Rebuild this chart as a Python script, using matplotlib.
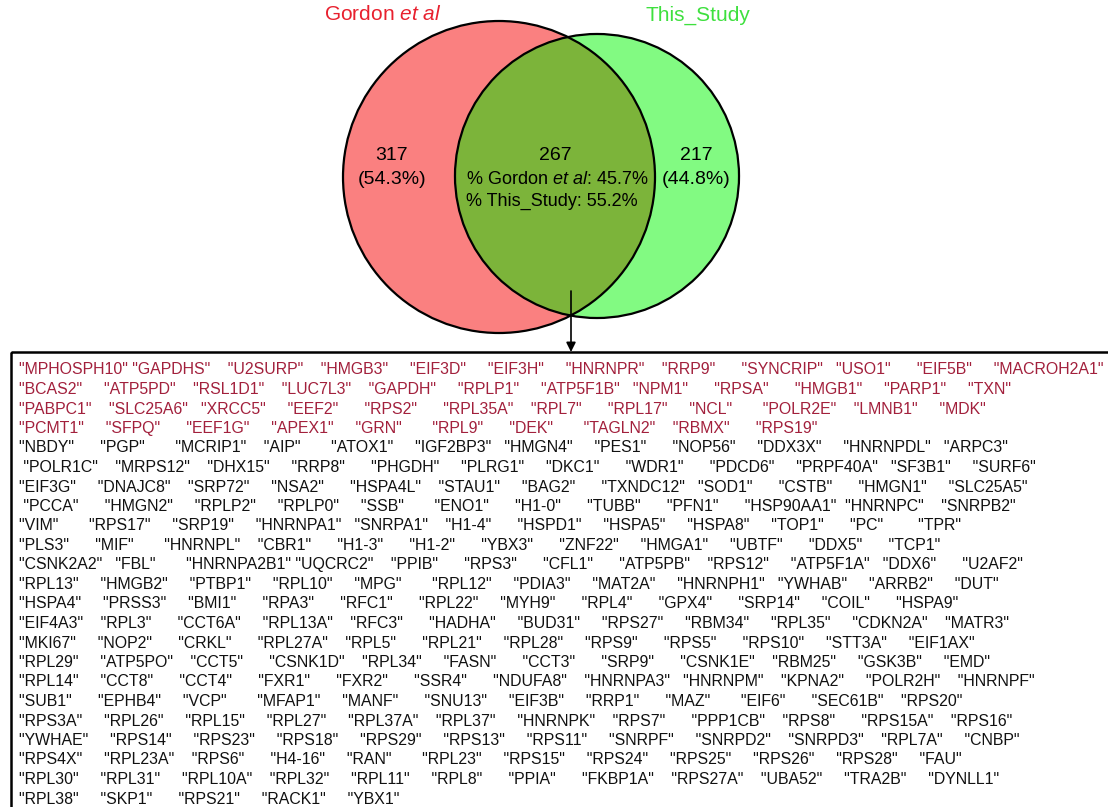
import numpy as np
import matplotlib.pyplot as plt
from matplotlib.patches import Circle, Rectangle

plt.rcParams['font.family'] = ['Liberation Sans', 'DejaVu Sans']
plt.rcParams['mathtext.fontset'] = 'custom'
plt.rcParams['mathtext.rm'] = 'Liberation Sans'
plt.rcParams['mathtext.it'] = 'Liberation Sans:italic'

# set labels and overlap counts
set_names = ['Gordon et al', 'This_Study']
only_gordon = 317
only_study = 217
shared = 267
gordon_total = only_gordon + shared
study_total = only_study + shared

# shared proteins, first group highlighted in red
shared_red = ['MPHOSPH10', 'GAPDHS', 'U2SURP', 'HMGB3', 'EIF3D', 'EIF3H', 'HNRNPR', 'RRP9',
              'SYNCRIP', 'USO1', 'EIF5B', 'MACROH2A1',
              'BCAS2', 'ATP5PD', 'RSL1D1', 'LUC7L3', 'GAPDH', 'RPLP1', 'ATP5F1B', 'NPM1',
              'RPSA', 'HMGB1', 'PARP1', 'TXN',
              'PABPC1', 'SLC25A6', 'XRCC5', 'EEF2', 'RPS2', 'RPL35A', 'RPL7', 'RPL17',
              'NCL', 'POLR2E', 'LMNB1', 'MDK',
              'PCMT1', 'SFPQ', 'EEF1G', 'APEX1', 'GRN', 'RPL9', 'DEK', 'TAGLN2', 'RBMX', 'RPS19']

shared_black = ['NBDY', 'PGP', 'MCRIP1', 'AIP', 'ATOX1', 'IGF2BP3', 'HMGN4', 'PES1', 'NOP56',
                'DDX3X', 'HNRNPDL', 'ARPC3',
                'POLR1C', 'MRPS12', 'DHX15', 'RRP8', 'PHGDH', 'PLRG1', 'DKC1', 'WDR1', 'PDCD6',
                'PRPF40A', 'SF3B1', 'SURF6',
                'EIF3G', 'DNAJC8', 'SRP72', 'NSA2', 'HSPA4L', 'STAU1', 'BAG2', 'TXNDC12', 'SOD1',
                'CSTB', 'HMGN1', 'SLC25A5',
                'PCCA', 'HMGN2', 'RPLP2', 'RPLP0', 'SSB', 'ENO1', 'H1-0', 'TUBB', 'PFN1',
                'HSP90AA1', 'HNRNPC', 'SNRPB2',
                'VIM', 'RPS17', 'SRP19', 'HNRNPA1', 'SNRPA1', 'H1-4', 'HSPD1', 'HSPA5', 'HSPA8',
                'TOP1', 'PC', 'TPR',
                'PLS3', 'MIF', 'HNRNPL', 'CBR1', 'H1-3', 'H1-2', 'YBX3', 'ZNF22', 'HMGA1', 'UBTF',
                'DDX5', 'TCP1',
                'CSNK2A2', 'FBL', 'HNRNPA2B1', 'UQCRC2', 'PPIB', 'RPS3', 'CFL1', 'ATP5PB', 'RPS12',
                'ATP5F1A', 'DDX6', 'U2AF2',
                'RPL13', 'HMGB2', 'PTBP1', 'RPL10', 'MPG', 'RPL12', 'PDIA3', 'MAT2A', 'HNRNPH1',
                'YWHAB', 'ARRB2', 'DUT',
                'HSPA4', 'PRSS3', 'BMI1', 'RPA3', 'RFC1', 'RPL22', 'MYH9', 'RPL4', 'GPX4', 'SRP14',
                'COIL', 'HSPA9',
                'EIF4A3', 'RPL3', 'CCT6A', 'RPL13A', 'RFC3', 'HADHA', 'BUD31', 'RPS27', 'RBM34',
                'RPL35', 'CDKN2A', 'MATR3',
                'MKI67', 'NOP2', 'CRKL', 'RPL27A', 'RPL5', 'RPL21', 'RPL28', 'RPS9', 'RPS5', 'RPS10',
                'STT3A', 'EIF1AX',
                'RPL29', 'ATP5PO', 'CCT5', 'CSNK1D', 'RPL34', 'FASN', 'CCT3', 'SRP9', 'CSNK1E',
                'RBM25', 'GSK3B', 'EMD',
                'RPL14', 'CCT8', 'CCT4', 'FXR1', 'FXR2', 'SSR4', 'NDUFA8', 'HNRNPA3', 'HNRNPM',
                'KPNA2', 'POLR2H', 'HNRNPF',
                'SUB1', 'EPHB4', 'VCP', 'MFAP1', 'MANF', 'SNU13', 'EIF3B', 'RRP1', 'MAZ', 'EIF6',
                'SEC61B', 'RPS20',
                'RPS3A', 'RPL26', 'RPL15', 'RPL27', 'RPL37A', 'RPL37', 'HNRNPK', 'RPS7', 'PPP1CB',
                'RPS8', 'RPS15A', 'RPS16',
                'YWHAE', 'RPS14', 'RPS23', 'RPS18', 'RPS29', 'RPS13', 'RPS11', 'SNRPF', 'SNRPD2',
                'SNRPD3', 'RPL7A', 'CNBP',
                'RPS4X', 'RPL23A', 'RPS6', 'H4-16', 'RAN', 'RPL23', 'RPS15', 'RPS24', 'RPS25',
                'RPS26', 'RPS28', 'FAU',
                'RPL30', 'RPL31', 'RPL10A', 'RPL32', 'RPL11', 'RPL8', 'PPIA', 'FKBP1A', 'RPS27A',
                'UBA52', 'TRA2B', 'DYNLL1',
                'RPL38', 'SKP1', 'RPS21', 'RACK1', 'YBX1']

# rows printed with one leading blank
indented_rows = [5, 7]

per_row = 12
field_w = max(len(g) for g in shared_red + shared_black) + 2


def make_rows(genes):
    rows = []
    for i in range(0, len(genes), per_row):
        chunk = genes[i:i + per_row]
        rows.append(' '.join(('"%s"' % g).ljust(field_w) for g in chunk).rstrip())
    return rows


W, H = 1108, 807
fig = plt.figure(figsize=(W / 100, H / 100), dpi=100)
ax = fig.add_axes([0, 0, 1, 1])
ax.set_xlim(0, W)
ax.set_ylim(H, 0)
ax.axis('off')

# circle sizes follow the set sizes
k = 156 / np.sqrt(gordon_total)
r1 = k * np.sqrt(gordon_total)
r2 = k * np.sqrt(study_total)
c1 = (499, 177)
c2 = (597, 176)

red_fill = '#FA8080'
green_fill = '#82FA82'
mix_fill = '#7CB43A'

red_c = Circle(c1, r1, facecolor=red_fill, edgecolor='none', zorder=1)
ax.add_patch(red_c)
ax.add_patch(Circle(c2, r2, facecolor=green_fill, edgecolor='none', zorder=1))
lens = Circle(c2, r2, facecolor=mix_fill, edgecolor='none', zorder=2)
ax.add_patch(lens)
lens.set_clip_path(red_c)
ax.add_patch(Circle(c1, r1, facecolor='none', edgecolor='black', lw=1.6, zorder=3))
ax.add_patch(Circle(c2, r2, facecolor='none', edgecolor='black', lw=1.6, zorder=3))

# set titles
ax.text(383, 15, r'Gordon $\it{et\ al}$', color='#E8202E', fontsize=15,
        ha='center', va='center')
ax.text(698, 15, set_names[1], color='#3EE03E', fontsize=15, ha='center', va='center')

pct_g = 100 * only_gordon / gordon_total
pct_s = 100 * only_study / study_total
ax.text(392, 155, str(only_gordon), fontsize=14, ha='center', va='center', zorder=4)
ax.text(392, 180, '(%.1f%%)' % pct_g, fontsize=14, ha='center', va='center', zorder=4)
ax.text(696, 155, str(only_study), fontsize=14, ha='center', va='center', zorder=4)
ax.text(696, 180, '(%.1f%%)' % pct_s, fontsize=14, ha='center', va='center', zorder=4)

ax.text(555, 155, str(shared), fontsize=14, ha='center', va='center', zorder=4)
ax.text(466, 180, r'%% Gordon $\it{et\ al}$: %.1f%%' % (100 * shared / gordon_total),
        fontsize=13, ha='left', va='center', zorder=4)
ax.text(466, 201, '%% This_Study: %.1f%%' % (100 * shared / study_total),
        fontsize=13, ha='left', va='center', zorder=4)

# arrow down to the shared list
ax.annotate('', xy=(571, 352), xytext=(571, 291),
            arrowprops=dict(arrowstyle='-|>', color='black', lw=1.2,
                            mutation_scale=14, shrinkA=0, shrinkB=0), zorder=5)

# box with shared protein names
ax.add_patch(Rectangle((11, 352), 1110, 470, facecolor='none', edgecolor='black',
                       lw=1.8, clip_on=True, zorder=4))

rows = [(r, '#A2203C') for r in make_rows(shared_red)] + \
       [(r, '#111111') for r in make_rows(shared_black)]
y0, dy = 370, 19.5
for i, (line, col) in enumerate(rows):
    if i in indented_rows:
        line = ' ' + line
    ax.text(19, y0 + i * dy, line, color=col, fontsize=11.4, ha='left', va='center')

fig.savefig('out.png', dpi=100)
